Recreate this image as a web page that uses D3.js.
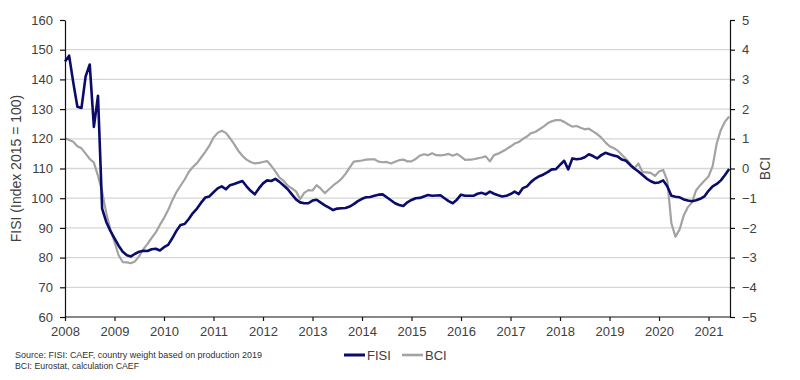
<!DOCTYPE html>
<html>
<head>
<meta charset="utf-8">
<script src="https://cdn.jsdelivr.net/npm/d3@7"></script>
<style>
  html, body { margin: 0; padding: 0; background: #fff; }
  svg { display: block; font-family: "Liberation Sans", Arial, sans-serif; }
</style>
</head>
<body>
<svg id="chart" width="800" height="380"></svg>
<script>
// ---- data (monthly, Jan 2008 .. Jun 2021) ----
const startYear = 2008;
const fisi = [
  146, 148, 139, 130.8, 130.4, 141, 145, 124, 134.5, 96.5, 92, 89,
  86.5, 84, 82, 80.8, 80.4, 81.3, 82, 82.3, 82.2, 82.8, 83, 82.4,
  83.5, 84.3, 86.5, 89, 91, 91.3, 93, 95, 96.5, 98.5, 100.2, 100.6,
  102, 103.3, 104, 103, 104.4, 104.8, 105.3, 105.8, 104, 102.5, 101.3, 103.3,
  105, 106, 105.8, 106.5, 105.5, 104.3, 103, 101.3, 99.6, 98.6, 98.3, 98.3,
  99.2, 99.5, 98.5, 97.6, 96.8, 96, 96.5, 96.6, 96.7, 97.2, 98, 99,
  99.8, 100.3, 100.4, 100.8, 101.2, 101.3, 100.3, 99.3, 98.3, 97.7, 97.4, 98.6,
  99.4, 100, 100.1, 100.6, 101.1, 100.8, 100.9, 101, 100, 99, 98.3, 99.5,
  101.2, 100.8, 100.8, 100.8, 101.5, 101.8, 101.3, 102.2, 101.5, 101, 100.6, 100.8,
  101.4, 102.2, 101.4, 103.4, 104, 105.5, 106.6, 107.4, 108, 108.8, 109.7, 109.8,
  111.2, 112.6, 109.7, 113.4, 113.1, 113.3, 113.8, 114.8, 114.2, 113.4, 114.5, 115.3,
  114.8, 114.4, 114, 113, 112.6, 111.2, 110, 109, 107.8, 106.6, 105.7, 105.1,
  105.3, 106, 104, 100.8, 100.5, 100.3, 99.6, 99.2, 99, 99.3, 99.8, 100.6,
  102.5, 104, 104.8, 106, 107.8, 109.8
];
const bci = [
  1.02, 0.96, 0.9, 0.75, 0.68, 0.5, 0.32, 0.2, -0.25, -0.77, -1.5, -2.05,
  -2.47, -2.92, -3.15, -3.16, -3.19, -3.12, -2.95, -2.72, -2.54, -2.34, -2.15, -1.9,
  -1.67, -1.4, -1.08, -0.8, -0.58, -0.37, -0.12, 0.05, 0.18, 0.37, 0.56, 0.77,
  1.04, 1.2, 1.27, 1.2, 1.02, 0.82, 0.6, 0.43, 0.3, 0.22, 0.17, 0.19,
  0.22, 0.25, 0.09, -0.1, -0.31, -0.42, -0.58, -0.67, -0.77, -1.03, -0.82, -0.73,
  -0.74, -0.56, -0.68, -0.83, -0.7, -0.57, -0.47, -0.35, -0.18, 0.03, 0.23, 0.25,
  0.27, 0.3, 0.31, 0.31, 0.23, 0.21, 0.22, 0.17, 0.23, 0.28, 0.3, 0.24,
  0.24, 0.32, 0.43, 0.48, 0.45, 0.51, 0.45, 0.44, 0.46, 0.49, 0.43, 0.49,
  0.4, 0.29, 0.3, 0.31, 0.34, 0.37, 0.41, 0.24, 0.45, 0.5, 0.57, 0.65,
  0.74, 0.84, 0.89, 1.0, 1.08, 1.19, 1.23, 1.32, 1.41, 1.52, 1.59, 1.63,
  1.63, 1.57, 1.48, 1.41, 1.43, 1.37, 1.32, 1.34, 1.25, 1.16, 1.04, 0.88,
  0.75, 0.69, 0.6, 0.46, 0.32, 0.16, 0.0, 0.17, -0.12, -0.13, -0.15, -0.25,
  -0.1, -0.05, -0.4, -1.85, -2.3, -2.05, -1.58, -1.3, -1.14, -0.73, -0.56, -0.41,
  -0.27, 0.08, 0.85, 1.3, 1.58, 1.75
];
const yearTicks = [2008, 2009, 2010, 2011, 2012, 2013, 2014, 2015, 2016, 2017, 2018, 2019, 2020, 2021];
const leftTicks = [60, 70, 80, 90, 100, 110, 120, 130, 140, 150, 160];
const rightTicks = [-5, -4, -3, -2, -1, 0, 1, 2, 3, 4, 5];
const seriesNames = ["FISI", "BCI"];
const leftTitle = "FISI (Index 2015 = 100)";
const rightTitle = "BCI";
const sourceLines = ["Source: FISI: CAEF, country weight based on production 2019", "BCI: Eurostat, calculation CAEF"];

// ---- layout ----
const L = 65, R = 730, T = 20, B = 317;
const svg = d3.select("#chart");
const x = d3.scaleLinear().domain([2008, 2021.434]).range([L, R]);
const yL = d3.scaleLinear().domain([60, 160]).range([B, T]);
const yR = d3.scaleLinear().domain([-5, 5]).range([B, T]);
const labelColor = "#404040";
const fisiColor = "#0b0b6b";
const bciColor = "#a3a3a3";

// gridlines
svg.append("g").selectAll("line")
  .data(leftTicks.filter(v => v > 60 && v < 160))
  .join("line")
  .attr("x1", L).attr("x2", R)
  .attr("y1", d => yL(d)).attr("y2", d => yL(d))
  .attr("stroke", "#d6d6d6").attr("stroke-width", 1.3);

// lines
const tX = (d, i) => x(startYear + i / 12);
svg.append("path").datum(bci)
  .attr("fill", "none").attr("stroke", bciColor).attr("stroke-width", 2.2)
  .attr("stroke-linejoin", "round")
  .attr("d", d3.line().x(tX).y(d => yR(d)));
svg.append("path").datum(fisi)
  .attr("fill", "none").attr("stroke", fisiColor).attr("stroke-width", 2.6)
  .attr("stroke-linejoin", "round")
  .attr("d", d3.line().x(tX).y(d => yL(d)));

// axes
function styleAxis(g) {
  g.selectAll(".domain").attr("stroke", "#111").attr("stroke-width", 1.2);
  g.selectAll(".tick line").attr("stroke", "#111").attr("stroke-width", 1.2);
  g.selectAll("text").attr("fill", labelColor).attr("font-size", "13px")
    .attr("font-family", "Liberation Sans, Arial, sans-serif");
}
svg.append("g").attr("transform", `translate(${L},0)`)
  .call(d3.axisLeft(yL).tickValues(leftTicks).tickSize(5).tickPadding(7).tickSizeOuter(0))
  .call(styleAxis);
svg.append("g").attr("transform", `translate(${R},0)`)
  .call(d3.axisRight(yR).tickValues(rightTicks).tickSize(5).tickPadding(7).tickSizeOuter(0)
    .tickFormat(d3.format("d")))
  .call(styleAxis);
svg.append("g").attr("transform", `translate(0,${B})`)
  .call(d3.axisBottom(x).tickValues(yearTicks).tickSize(4).tickPadding(6).tickSizeOuter(0)
    .tickFormat(d3.format("d")))
  .call(g => g.select(".domain").attr("d", `M${L},0H${R}`))
  .call(styleAxis);

// axis titles
svg.append("text")
  .attr("transform", `translate(21,${(T + B) / 2}) rotate(-90)`)
  .attr("text-anchor", "middle").attr("fill", labelColor).attr("font-size", "14px")
  .text(leftTitle);
svg.append("text")
  .attr("transform", `translate(770,${yR(0)}) rotate(-90)`)
  .attr("text-anchor", "middle").attr("fill", labelColor).attr("font-size", "14px")
  .text(rightTitle);

// legend
const legend = svg.append("g");
const legItems = [
  { name: seriesNames[0], color: fisiColor, x: 344, w: 3 },
  { name: seriesNames[1], color: bciColor, x: 402, w: 2.6 }
];
legItems.forEach(it => {
  legend.append("line").attr("x1", it.x).attr("x2", it.x + 21)
    .attr("y1", 355).attr("y2", 355).attr("stroke", it.color).attr("stroke-width", it.w);
  legend.append("text").attr("x", it.x + 23).attr("y", 360)
    .attr("fill", labelColor).attr("font-size", "13px").text(it.name);
});

// source note
svg.append("text").attr("x", 15).attr("y", 358).attr("fill", "#303030")
  .attr("font-size", "9px").attr("textLength", 247).attr("lengthAdjust", "spacingAndGlyphs")
  .text(sourceLines[0]);
svg.append("text").attr("x", 15).attr("y", 369).attr("fill", "#303030")
  .attr("font-size", "9px").attr("textLength", 124).attr("lengthAdjust", "spacingAndGlyphs")
  .text(sourceLines[1]);
</script>
</body>
</html>
